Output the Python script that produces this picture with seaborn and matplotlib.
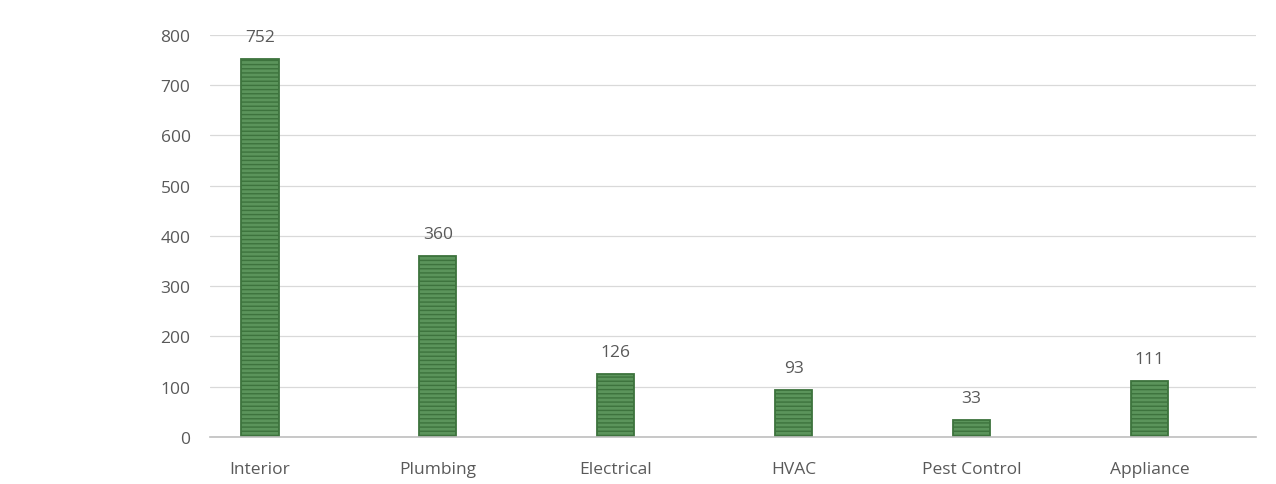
import matplotlib
matplotlib.use("Agg")
import matplotlib.pyplot as plt
import seaborn as sns
import pandas as pd

categories = ["Interior", "Plumbing", "Electrical", "HVAC", "Pest Control", "Appliance"]
counts = [752, 360, 126, 93, 33, 111]
y_ticks = [0, 100, 200, 300, 400, 500, 600, 700, 800]

sns.set_theme(style="white")
plt.rcParams["font.family"] = ["Open Sans", "DejaVu Sans"]
plt.rcParams["hatch.color"] = "white"
plt.rcParams["hatch.linewidth"] = 1.0

df = pd.DataFrame({"category": categories, "count": counts})

fig = plt.figure(figsize=(12.76, 4.85), dpi=100)
ax = fig.add_axes([0.1646, 0.097, 0.82, 0.829])

sns.barplot(data=df, x="category", y="count", color="#5b945b", width=0.21,
            saturation=1, ax=ax, edgecolor="#3d733d", linewidth=1.3)
for p in ax.patches:
    p.set_hatch("----")

ax.set_xlim(-0.28, 5.6)
ax.set_ylim(0, 800)
ax.set_yticks(y_ticks)
ax.set_yticklabels([str(t) for t in y_ticks])
ax.grid(axis="y", color="#d9d9d9", linewidth=0.9)
ax.set_axisbelow(True)
for s in ["top", "right", "left"]:
    ax.spines[s].set_visible(False)
ax.spines["bottom"].set_color("#bfbfbf")
ax.spines["bottom"].set_linewidth(1.2)

ax.set_xlabel("")
ax.set_ylabel("")
ax.tick_params(axis="both", length=0, labelsize=12.5, colors="#595959")
ax.tick_params(axis="y", pad=14)
ax.tick_params(axis="x", pad=17)

ax.bar_label(ax.containers[0], labels=[str(v) for v in counts], padding=10,
             fontsize=12.5, color="#595959")

fig.savefig("out.png", dpi=100)
